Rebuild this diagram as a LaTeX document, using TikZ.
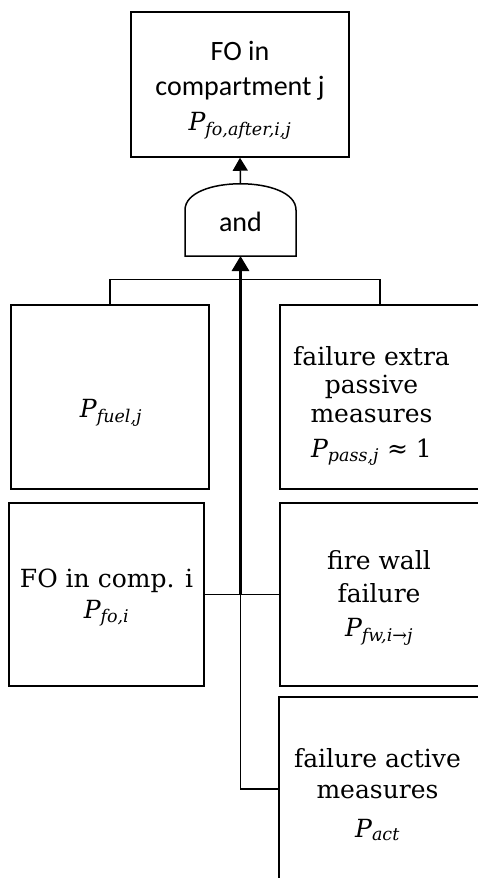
\RequirePackage{fix-cm}
\documentclass[tikz,border=0pt]{standalone}
\usepackage{fontspec}
\setmainfont{DejaVu Serif}
\newfontfamily\labelsans{Carlito}
\newfontfamily\formfont{DejaVu Serif}
\usetikzlibrary{arrows.meta,calc}
% probability symbol P with an italic index
\newcommand\Pv[1]{{\formfont\itshape P}\textsubscript{\formfont\itshape #1}}

\begin{document}
\begin{tikzpicture}[x=1pt,y=-1pt,
  box/.style={draw, line width=1.5pt, rectangle, inner sep=0pt},
  wire/.style={line width=1.5pt},
  trunk/.style={line width=3pt},
  serif/.style={align=center, inner sep=0pt, font=\fontsize{25}{#1}\selectfont},
  sans/.style={align=center, inner sep=0pt, font=\labelsans\fontsize{28}{35}\selectfont}]

\useasboundingbox (0,0) rectangle (478,878);
\clip (0,0) rectangle (478,878);

% event boxes
\node[box, minimum width=218pt, minimum height=145pt] (top) at (240,84.5) {};
\node[box, minimum width=198pt, minimum height=184pt] (fuel) at (110,397) {};
\node[box, minimum width=210pt, minimum height=184pt] (pass) at (385,397) {};
\node[box, minimum width=195pt, minimum height=183pt] (foi) at (106.5,594.5) {};
\node[box, minimum width=210pt, minimum height=183pt] (fw) at (385,594.5) {};
\node[box, minimum width=210pt, minimum height=184pt] (act) at (384,789) {};

% box texts
\node[sans] (toptxt) at (240,90) {FO in\\compartment j\\{\fontsize{25}{36}\selectfont\Pv{fo,after,i,j}}};
\node[serif=29] (fueltxt) at (111,413) {\Pv{fuel,j}};
\node[serif=28.5] (passtxt) at (371.5,406) {failure extra\\passive\\measures\\[6.5pt]\Pv{pass,j} ≈ 1};
\node[serif=31] (foitxt) at (106.5,597.5) {FO in comp. i\\\Pv{fo,i}};
\node[serif=33] (fwtxt) at (379,598) {fire wall\\failure\\[1pt]\Pv{fw,i→j}};
\node[serif=31] (acttxt) at (377.5,794.5) {failure active\\measures\\[8pt]\Pv{act}};

% AND gate
\draw[wire] (185,256) -- (185,210) .. controls (185,175) and (296,175) .. (296,210)
  -- (296,256) -- cycle;
\node[sans] (gate) at (240.5,222) {and};
\coordinate (gatetop) at (240.5,183.5);
\coordinate (gatebot) at (240.5,256);
\coordinate (junction) at (240.5,594.5);

% connectors
\draw[wire, -{Triangle[width=15pt,length=13pt]}] (gatetop) -- (top.south);
\draw[wire] (fuel.north) -- ++(0,-25) -| ($(pass.north)+(-5,0)$);
\draw[wire] (foi.east) -- (junction) -- (fw.west);
\draw[wire] (act.west) -| (junction);
\draw[trunk, -{Triangle[width=17pt,length=15pt]}] (junction) -- (gatebot);
\end{tikzpicture}
\end{document}
